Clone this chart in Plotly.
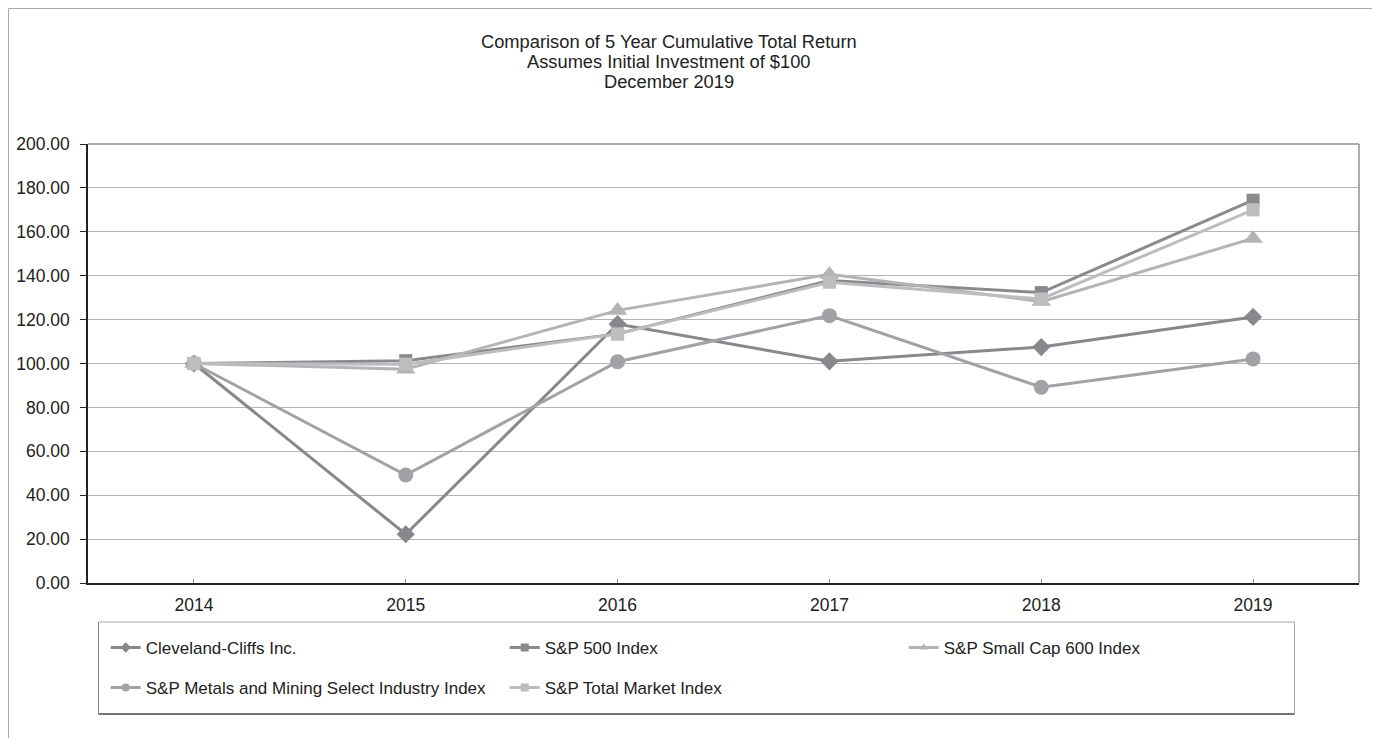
import plotly.graph_objects as go

years = ["2014", "2015", "2016", "2017", "2018", "2019"]
cliffs = [100.0, 22.2, 118.0, 101.0, 107.5, 121.2]
sp500 = [100.0, 101.3, 113.5, 137.8, 132.3, 174.4]
smallcap = [100.0, 97.4, 124.2, 140.6, 128.2, 157.0]
metals = [100.0, 49.2, 100.8, 121.8, 89.2, 102.1]
totalmkt = [100.0, 99.7, 113.5, 137.0, 129.4, 170.0]

y_ticks = [0, 20, 40, 60, 80, 100, 120, 140, 160, 180, 200]

series = [
    ("Cleveland-Cliffs Inc.", cliffs, "#88888c", "diamond", 14, "legend"),
    ("S&P 500 Index", sp500, "#8a8a8e", "square", 13, "legend"),
    ("S&P Small Cap 600 Index", smallcap, "#b4b4b7", "triangle-up", 17, "legend"),
    ("S&P Metals and Mining Select Industry Index", metals, "#a2a2a6", "circle", 15, "legend2"),
    ("S&P Total Market Index", totalmkt, "#bdbdc0", "square", 13, "legend2"),
]

FONT = "Liberation Sans, Arial, sans-serif"

# page offset of the figure (browser body margin)
OFF = 8
W, H = 1372, 730
L, R, T = 80, 21, 136
B = H - (583 - OFF)
PW = W - L - R
PH = H - T - B


def px(x):
    """reference page x -> paper x"""
    return (x - OFF - L) / PW


def py(y):
    """reference page y -> paper y"""
    return (H - B - (y - OFF)) / PH


fig = go.Figure()
for name, vals, color, sym, size, lg in series:
    fig.add_trace(go.Scatter(
        x=years, y=vals, mode="lines+markers", name=name,
        line=dict(color=color, width=3),
        marker=dict(symbol=sym, size=size, color=color),
        showlegend=False,
    ))
for name, vals, color, sym, size, lg in series:
    fig.add_trace(go.Scatter(
        x=[None], y=[None], mode="lines+markers", name=name,
        line=dict(color=color, width=3),
        marker=dict(symbol=sym, size=8, color=color),
        showlegend=True, legend=lg,
    ))

shapes = [
    # outer frame
    dict(type="line", xref="paper", yref="paper", x0=px(8.5), x1=px(8.5), y0=py(8.5), y1=py(760),
         line=dict(color="#a8a8a8", width=1)),
    dict(type="line", xref="paper", yref="paper", x0=px(8.5), x1=px(1376), y0=py(8.5), y1=py(8.5),
         line=dict(color="#a8a8a8", width=1)),
    dict(type="line", xref="paper", yref="paper", x0=px(1376), x1=px(1376), y0=py(8.5), y1=py(760),
         line=dict(color="#a8a8a8", width=1)),
    # plot area top / right border
    dict(type="line", xref="paper", yref="paper", x0=0, x1=1, y0=1, y1=1,
         line=dict(color="#909090", width=1.5)),
    dict(type="line", xref="paper", yref="paper", x0=1, x1=1, y0=0, y1=1,
         line=dict(color="#909090", width=1.5)),
    # legend box
    dict(type="rect", xref="paper", yref="paper", x0=px(98.5), x1=px(1294.5), y0=py(714), y1=py(622),
         line=dict(color="#a8a8a8", width=1)),
    dict(type="line", xref="paper", yref="paper", x0=px(98.5), x1=px(1294.5), y0=py(714), y1=py(714),
         line=dict(color="#555555", width=1.5)),
    dict(type="line", xref="paper", yref="paper", x0=px(98.5), x1=px(98.5), y0=py(714), y1=py(622),
         line=dict(color="#808080", width=1)),
]

annotations = [
    dict(text="Comparison of 5 Year Cumulative Total Return", x=px(669), y=py(41.5)),
    dict(text="Assumes Initial Investment of $100", x=px(669), y=py(61.5)),
    dict(text="December 2019", x=px(669), y=py(81)),
]
annotations = [dict(a, xref="paper", yref="paper", showarrow=False, xanchor="center",
                    yanchor="middle", font=dict(family=FONT, size=18.3, color="#222222"))
               for a in annotations]

legend_common = dict(
    orientation="h", xanchor="left", yanchor="middle",
    font=dict(family=FONT, size=17, color="#222222"),
    bgcolor="rgba(0,0,0,0)", borderwidth=0, entrywidth=354, entrywidthmode="pixels",
    itemwidth=30, tracegroupgap=0,
)

fig.update_layout(
    width=W, height=H,
    margin=dict(l=L, r=R, t=T, b=B, pad=0, autoexpand=False),
    paper_bgcolor="white", plot_bgcolor="white",
    font=dict(family=FONT, size=17, color="#222222"),
    shapes=shapes, annotations=annotations,
    legend=dict(legend_common, x=px(105.7), y=py(648)),
    legend2=dict(legend_common, x=px(105.7), y=py(688)),
    xaxis=dict(
        type="category", range=[-0.5, 5.5], showgrid=False, automargin=False,
        showline=True, linecolor="#222222", linewidth=1.5,
        ticks="inside", ticklen=4, tickcolor="#909090",
        tickfont=dict(family=FONT, size=17.5, color="#222222"),
        ticklabelstandoff=5, zeroline=False,
    ),
    yaxis=dict(
        range=[0, 200], tickvals=y_ticks, ticktext=[f"{v:.2f}" for v in y_ticks],
        showgrid=True, gridcolor="#b4b4b4", gridwidth=1, automargin=False,
        showline=True, linecolor="#222222", linewidth=1.5,
        ticks="outside", ticklen=6, tickcolor="#222222",
        tickfont=dict(family=FONT, size=17.5, color="#222222"),
        ticklabelstandoff=7, zeroline=False,
    ),
)

fig.write_html("out.html")
